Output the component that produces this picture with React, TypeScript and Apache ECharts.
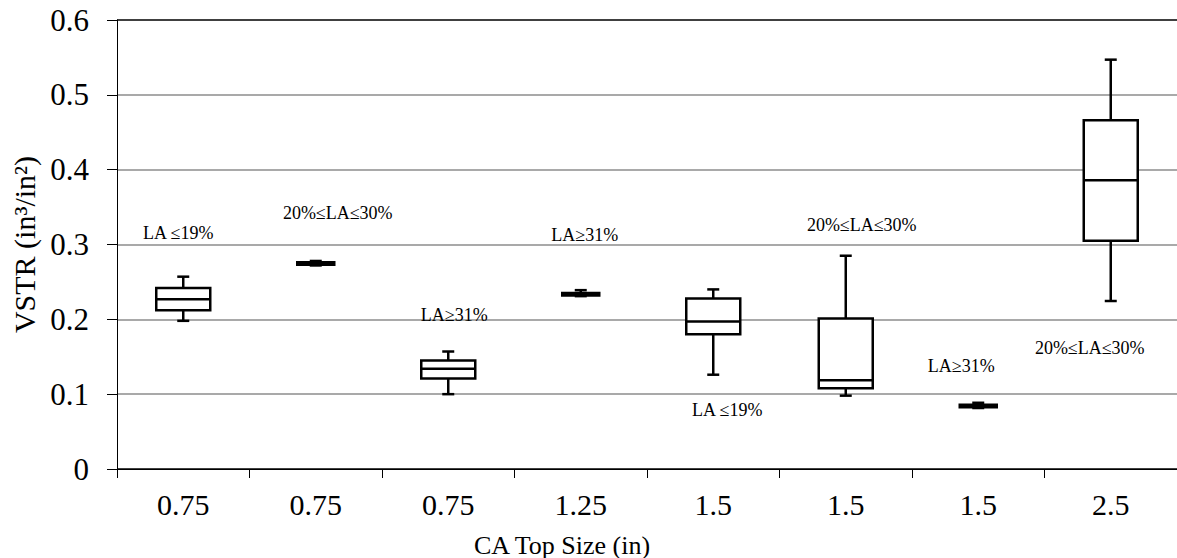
import React, { useEffect, useRef } from "react";
import * as echarts from "echarts";

// Category tick labels (CA top size, in)
const categories = ["0.75", "0.75", "0.75", "1.25", "1.5", "1.5", "1.5", "2.5"];

// Box statistics (VSTR, in³/in²)
const whiskerLow = [0.198, 0.272, 0.1, 0.231, 0.126, 0.098, 0.0815, 0.2245];
const quartile1 = [0.212, 0.2728, 0.121, 0.232, 0.18, 0.108, 0.0826, 0.305];
const medians = [0.227, 0.2745, 0.134, 0.2336, 0.197, 0.1185, 0.0842, 0.386];
const quartile3 = [0.242, 0.2762, 0.145, 0.2352, 0.228, 0.201, 0.0858, 0.466];
const whiskerHigh = [0.257, 0.278, 0.157, 0.239, 0.24, 0.285, 0.0885, 0.547];

// Group annotations
const annotationTexts = [
  "LA ≤19%",
  "20%≤LA≤30%",
  "LA≥31%",
  "LA≥31%",
  "LA ≤19%",
  "20%≤LA≤30%",
  "LA≥31%",
  "20%≤LA≤30%",
];
const annotationValues = [0.3154, 0.3417, 0.2058, 0.3127, 0.0788, 0.3261, 0.1376, 0.1613];

// Styling (not data)
const boxWidthPx = [54, 37, 54, 37, 54, 54, 37, 54];
const annotationDx = [-5, 22, 6, 4, 14, 16, -17, -21];

const FONT = "'Liberation Serif', 'Times New Roman', serif";

export default function App() {
  const ref = useRef<HTMLDivElement>(null);

  useEffect(() => {
    if (!ref.current) return;
    const chart = echarts.init(ref.current, null, { renderer: "svg" });

    const boxData = categories.map((_, i) => [
      i,
      whiskerLow[i],
      quartile1[i],
      medians[i],
      quartile3[i],
      whiskerHigh[i],
    ]);
    const labelData = categories.map((_, i) => [i, annotationValues[i]]);

    const option: any = {
      animation: false,
      backgroundColor: "#fff",
      grid: { left: 117, right: 0, top: 20, bottom: 89, containLabel: false },
      xAxis: {
        type: "category",
        data: categories,
        boundaryGap: true,
        axisLine: { show: true, lineStyle: { color: "#000", width: 1 } },
        axisTick: { show: true, alignWithLabel: false, length: 9, lineStyle: { color: "#000", width: 1 } },
        axisLabel: { color: "#000", fontFamily: FONT, fontSize: 30, margin: 20, interval: 0 },
        splitLine: { show: false },
      },
      yAxis: {
        type: "value",
        min: 0,
        max: 0.6,
        interval: 0.1,
        name: "VSTR (in³/in²)",
        nameLocation: "middle",
        nameGap: 75,
        nameTextStyle: { color: "#000", fontFamily: FONT, fontSize: 30 },
        axisLine: { show: true, lineStyle: { color: "#000", width: 1 } },
        axisTick: { show: true, inside: false, length: 10, lineStyle: { color: "#000", width: 1 } },
        axisLabel: {
          color: "#000",
          fontFamily: FONT,
          fontSize: 31,
          margin: 28,
          formatter: (v: number) => String(Math.round(v * 10) / 10),
        },
        splitLine: {
          show: true,
          lineStyle: {
            color: ["#000", "#8c8c8c", "#8c8c8c", "#8c8c8c", "#8c8c8c", "#8c8c8c", "#000"],
            width: 1.5,
          },
        },
      },
      graphic: [
        {
          type: "text",
          x: 562,
          y: 545,
          style: {
            text: "CA Top Size (in)",
            fontFamily: FONT,
            fontSize: 26,
            fill: "#000",
            align: "center",
            verticalAlign: "middle",
          },
        },
      ],
      series: [
        {
          type: "custom",
          name: "boxes",
          data: boxData,
          encode: { x: 0, y: [1, 2, 3, 4, 5] },
          renderItem: (params: any, api: any) => {
            const i = api.value(0);
            const lo = api.coord([i, api.value(1)]);
            const q1 = api.coord([i, api.value(2)]);
            const med = api.coord([i, api.value(3)]);
            const q3 = api.coord([i, api.value(4)]);
            const hi = api.coord([i, api.value(5)]);
            const x = lo[0];
            const w = boxWidthPx[i];
            const cap = 12;
            const st = { stroke: "#000", lineWidth: 2.5, fill: "none" };
            return {
              type: "group",
              children: [
                { type: "line", shape: { x1: x, y1: hi[1], x2: x, y2: q3[1] }, style: st },
                { type: "line", shape: { x1: x, y1: q1[1], x2: x, y2: lo[1] }, style: st },
                { type: "line", shape: { x1: x - cap / 2, y1: hi[1], x2: x + cap / 2, y2: hi[1] }, style: st },
                { type: "line", shape: { x1: x - cap / 2, y1: lo[1], x2: x + cap / 2, y2: lo[1] }, style: st },
                {
                  type: "rect",
                  shape: { x: x - w / 2, y: q3[1], width: w, height: q1[1] - q3[1] },
                  style: { stroke: "#000", lineWidth: 2.5, fill: "#fff" },
                },
                { type: "line", shape: { x1: x - w / 2, y1: med[1], x2: x + w / 2, y2: med[1] }, style: st },
              ],
            };
          },
          z: 3,
        },
        {
          type: "custom",
          name: "annotations",
          data: labelData,
          encode: { x: 0, y: 1 },
          renderItem: (params: any, api: any) => {
            const i = api.value(0);
            const p = api.coord([i, api.value(1)]);
            return {
              type: "text",
              x: p[0] + annotationDx[i],
              y: p[1],
              style: {
                text: annotationTexts[i],
                fontFamily: FONT,
                fontSize: 18,
                fill: "#000",
                align: "center",
                verticalAlign: "middle",
              },
            };
          },
          z: 4,
        },
      ],
    };

    chart.setOption(option);
    return () => chart.dispose();
  }, []);

  return (
    <div
      ref={ref}
      style={{ position: "absolute", left: 0, top: 0, width: 1177, height: 558 }}
    />
  );
}
